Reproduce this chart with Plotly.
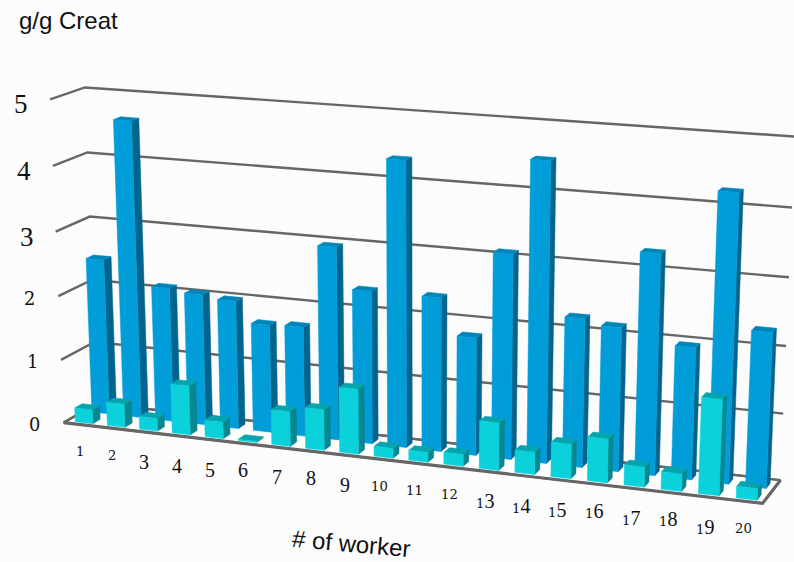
import numpy as np
import plotly.graph_objects as go

# Urinary levels per worker, g/g creatinine
workers = list(range(1, 21))
series_back = [2.45, 4.63, 2.1, 2.05, 2.0, 1.68, 1.7, 2.97, 2.35, 4.35,
               2.35, 1.8, 3.1, 4.5, 2.24, 2.16, 3.29, 1.97, 4.25, 2.3]
series_front = [0.22, 0.37, 0.2, 0.77, 0.26, 0.02, 0.54, 0.63, 1.0, 0.15,
                0.15, 0.18, 0.72, 0.34, 0.52, 0.66, 0.3, 0.26, 1.42, 0.17]
levels = [0, 1, 2, 3, 4, 5]

# Chart box corners (across, depth, height) and where they land on the canvas.
BOX = [
    ((0, 0, 0), (63, 422)), ((1, 0, 0), (763, 503)),
    ((0, 1, 0), (97, 404)), ((1, 1, 0), (780, 480)),
    ((0, 0, 5), (50, 100)), ((0, 1, 5), (85, 87)),
    ((1, 1, 5), (794, 135)), ((1, 1, 1), (783, 413)),
    ((0, 1, 3), (90, 216)), ((0, 0, 3), (56, 232)),
    ((1, 1, 3), (790, 280)),
]


def fit_camera(pairs):
    rows = []
    for (a, b, c), (x, y) in pairs:
        rows.append([a, b, c, 1, 0, 0, 0, 0, -x * a, -x * b, -x * c, -x])
        rows.append([0, 0, 0, 0, a, b, c, 1, -y * a, -y * b, -y * c, -y])
    return np.linalg.svd(np.array(rows, float))[2][-1].reshape(3, 4)


CAM = fit_camera(BOX)


def project(a, b, c):
    p = CAM @ np.array([a, b, c, 1.0])
    return p[0] / p[2], p[1] / p[2]


def polys(faces):
    xs, ys = [], []
    for face in faces:
        pts = [project(*q) for q in face]
        pts.append(pts[0])
        xs += [p[0] for p in pts] + [None]
        ys += [p[1] for p in pts] + [None]
    return xs, ys


def bar_faces(values, v0, v1, start=0.26, width=0.55):
    front, side, top = [], [], []
    n = len(values)
    for i, h in enumerate(values):
        u0 = (i + start) / n
        u1 = (i + start + width) / n
        front.append([(u0, v0, 0), (u1, v0, 0), (u1, v0, h), (u0, v0, h)])
        side.append([(u1, v0, 0), (u1, v1, 0), (u1, v1, h), (u1, v0, h)])
        top.append([(u0, v0, h), (u1, v0, h), (u1, v1, h), (u0, v1, h)])
    return front, side, top


fig = go.Figure()


def add_lines(points, color="#666666", width=2.4):
    pts = [project(*q) for q in points]
    fig.add_trace(go.Scatter(x=[p[0] for p in pts], y=[p[1] for p in pts], mode="lines",
                             line=dict(color=color, width=width), hoverinfo="skip",
                             showlegend=False))


# Floor, then the gridlines running up the side wall and along the back wall
fx, fy = polys([[(0, 0, 0), (1, 0, 0), (1, 1, 0), (0, 1, 0)]])
fig.add_trace(go.Scatter(x=fx, y=fy, mode="lines", fill="toself", fillcolor="#FFFFFF",
                         line=dict(color="#666666", width=2), hoverinfo="skip", showlegend=False))
for lv in levels:
    add_lines([(0, 0, lv), (0, 1, lv), (1, 1, lv)])
add_lines([(0, 0, 0), (1, 0, 0), (1, 1, 0)], width=3.2)


def add_faces(faces, color):
    x, y = polys(faces)
    fig.add_trace(go.Scatter(x=x, y=y, mode="lines", fill="toself", fillcolor=color,
                             line=dict(color=color, width=0.5), hoverinfo="skip",
                             showlegend=False))


def add_series(values, v0, v1, colors):
    front, side, top = bar_faces(values, v0, v1)
    add_faces(side, colors[1])
    add_faces(top, colors[2])
    add_faces(front, colors[0])


add_series(series_back, 0.60, 0.82, ("#009DD9", "#00658C", "#0085B8"))
add_series(series_front, 0.10, 0.32, ("#0BD1DB", "#07878F", "#08A4AD"))

SERIF = "Liberation Serif"
SMALL_SERIF = "DejaVu Serif"
SMALL_DIGITS = "012"
DROPPED_DIGITS = "34579"


def numeral(text, size):
    # Old-style figures: 0, 1 and 2 sit at x-height in a wider cut
    parts = []
    for ch in str(text):
        if ch in SMALL_DIGITS:
            parts.append(f'<span style="font-family:\'{SMALL_SERIF}\';'
                         f'font-size:{size * 0.66:.1f}px">{ch}</span>')
        else:
            parts.append(f'<span style="font-size:{size:.1f}px">{ch}</span>')
    return "".join(parts)


for w in workers:
    x, y = project((w - 0.5) / len(workers), 0, 0)
    drop = 3 if str(w)[-1] in DROPPED_DIGITS else 0
    fig.add_annotation(x=x, y=y, xref="x", yref="y", text=numeral(w, 20), showarrow=False,
                       xshift=0, yshift=-(27 + drop), font=dict(family=SERIF, size=20, color="#111111"))

for lv in levels:
    x, y = project(0, 0, lv)
    drop = 3 if str(lv) in DROPPED_DIGITS else 0
    fig.add_annotation(x=x, y=y, xref="x", yref="y", text=numeral(lv, 27), showarrow=False,
                       xshift=-29, yshift=-(drop + 2), font=dict(family=SERIF, size=27, color="#111111"))

fig.add_annotation(x=17, y=20, xref="x", yref="y", xanchor="left", text="g/g Creat", showarrow=False,
                   font=dict(family="Liberation Sans", size=24, color="#111111"))
fig.add_annotation(x=351, y=543, xref="x", yref="y", text="# of worker", showarrow=False, textangle=5,
                   font=dict(family="Liberation Sans", size=24, color="#111111"))

fig.update_layout(
    width=794, height=562, margin=dict(l=0, r=0, t=0, b=0),
    paper_bgcolor="#FCFCFC", plot_bgcolor="#FCFCFC", showlegend=False,
    xaxis=dict(range=[0, 794], visible=False, fixedrange=True),
    yaxis=dict(range=[562, 0], visible=False, fixedrange=True),
)
fig.write_html("out.html")
